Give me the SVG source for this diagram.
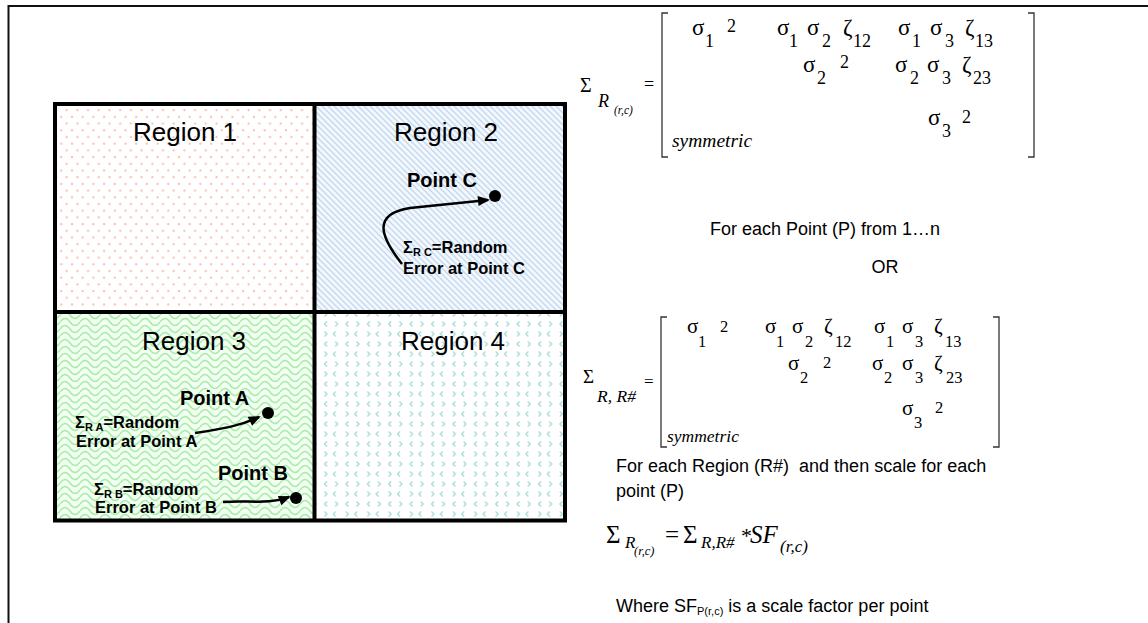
<svg xmlns="http://www.w3.org/2000/svg" width="1148" height="623" viewBox="0 0 1148 623">
<style>
.sans{font-family:"Liberation Sans",Arial,sans-serif;fill:#000}
.reg{font-size:26px}
.pt{font-size:20px;font-weight:bold}
.lbl{font-size:16.5px;font-weight:bold}
.sub{font-size:11px;font-weight:bold}
.txt{font-size:18px}
.m{font-family:"Liberation Serif","Times New Roman",serif;fill:#000}
.m1{font-size:23px}
.d1{font-size:18px}
.m2{font-size:21px}
.d2{font-size:16.5px}
.it{font-style:italic}
.brk{fill:none;stroke:#333;stroke-width:1.3}
.grid{fill:none;stroke:#000;stroke-width:4}
.arr{fill:none;stroke:#000;stroke-width:2.5;marker-end:url(#ah)}
</style>
<defs>
<marker id="ah" viewBox="0 0 12 10" refX="10" refY="5" markerWidth="13" markerHeight="10" markerUnits="userSpaceOnUse" orient="auto">
<path d="M0,0 L12,5 L0,10 Z" fill="#000"/>
</marker>
<pattern id="p1" width="10.7" height="13.4" patternUnits="userSpaceOnUse">
<rect width="10.7" height="13.4" fill="#fff"/>
<circle cx="2.5" cy="3" r="1.1" fill="#f9b8a8"/>
<circle cx="7.8" cy="9.7" r="1.1" fill="#f9b8a8"/>
</pattern>
<pattern id="p2" width="6" height="6" patternUnits="userSpaceOnUse">
<rect width="6" height="6" fill="#f4f8fd"/>
<path d="M-1.5,-1.5 L7.5,7.5 M-1.5,4.5 L1.5,7.5 M4.5,-1.5 L7.5,1.5" stroke="#c2d9f0" stroke-width="1.4"/>
</pattern>
<pattern id="p3" width="20" height="14" patternUnits="userSpaceOnUse">
<rect width="20" height="14" fill="#f4fff4"/>
<path d="M0,7 Q5,0 10,7 Q15,14 20,7 M0,0 Q5,-7 10,0 Q15,7 20,0 M0,14 Q5,7 10,14 Q15,21 20,14" fill="none" stroke="#a6eda6" stroke-width="1.5"/>
</pattern>
<pattern id="p4" width="21.4" height="20" patternUnits="userSpaceOnUse">
<rect width="21.4" height="20" fill="#fff"/>
<path d="M6,1.5 L3.5,4 L6,6.5 M14.2,1.5 L16.7,4 L14.2,6.5 M14.8,11.5 L12.3,14 L14.8,16.5 M3.5,11.5 L6,14 L3.5,16.5" fill="none" stroke="#9fd6d6" stroke-width="1.1"/>
</pattern>
</defs>
<rect width="1148" height="623" fill="#fff"/>
<path d="M8.5,623 L8.5,6 L1148,6" fill="none" stroke="#111" stroke-width="2"/>

<g id="region1">
<rect x="55" y="104" width="259.5" height="208" fill="url(#p1)"/>
<text class="sans reg" x="185" y="141" text-anchor="middle">Region 1</text>
</g>
<g id="region2">
<rect x="314.5" y="104" width="250.5" height="208" fill="url(#p2)"/>
<text class="sans reg" x="446" y="141" text-anchor="middle">Region 2</text>
</g>
<g id="region3">
<rect x="55" y="312" width="259.5" height="208.5" fill="url(#p3)"/>
<text class="sans reg" x="194" y="350" text-anchor="middle">Region 3</text>
</g>
<g id="region4">
<rect x="314.5" y="312" width="250.5" height="208.5" fill="url(#p4)"/>
<text class="sans reg" x="453" y="350" text-anchor="middle">Region 4</text>
</g>
<g id="gridlines">
<rect class="grid" x="55" y="104" width="510" height="416.5"/>
<path class="grid" d="M314.5,104 L314.5,520.5 M55,312 L565,312"/>
</g>

<g id="pointC">
<text class="sans pt" x="407" y="187">Point C</text>
<circle cx="495" cy="196" r="6"/>
<text class="sans lbl" x="403" y="253">Σ<tspan class="sub" dy="3">R C</tspan><tspan dy="-3">=Random</tspan></text>
<text class="sans lbl" x="403" y="274">Error at Point C</text>
</g>
<g id="pointA">
<text class="sans pt" x="180" y="405">Point A</text>
<circle cx="268" cy="413" r="6"/>
<text class="sans lbl" x="75" y="428">Σ<tspan class="sub" dy="3">R A</tspan><tspan dy="-3">=Random</tspan></text>
<text class="sans lbl" x="76" y="447">Error at Point A</text>
</g>
<g id="pointB">
<text class="sans pt" x="218" y="480">Point B</text>
<circle cx="296" cy="498" r="6"/>
<text class="sans lbl" x="94" y="495">Σ<tspan class="sub" dy="3">R B</tspan><tspan dy="-3">=Random</tspan></text>
<text class="sans lbl" x="95" y="513">Error at Point B</text>
</g>

<g id="connectors">
<path class="arr" d="M402,264 C380,236 372,214 410,208 L488,200"/>
<path class="arr" d="M195,433 C222,429 240,426 259,417"/>
<path class="arr" d="M223,502 C250,500 268,505 289,497"/>
</g>

<g id="matrix1">
<text class="m" x="580" y="92" font-size="20">Σ</text>
<text class="m it" x="598" y="107" font-size="18">R</text>
<text class="m it" x="614" y="114" font-size="11.5">(r,c)</text>
<text class="m" x="644" y="90" font-size="18">=</text>
<path class="brk" d="M668,13 L662,13 L662,157 L668,157 M1028,13 L1034,13 L1034,157 L1028,157"/>
<g class="m">
<text class="m1" x="692" y="35">σ</text><text class="d1" x="705" y="47">1</text><text class="d1" x="727" y="32">2</text>
<text class="m1" x="777" y="35">σ</text><text class="d1" x="789" y="47">1</text>
<text class="m1" x="807" y="35">σ</text><text class="d1" x="822" y="47">2</text>
<text class="m1" x="843" y="35">ζ</text><text class="d1" x="853" y="47">12</text>
<text class="m1" x="898" y="35">σ</text><text class="d1" x="912" y="47">1</text>
<text class="m1" x="930" y="35">σ</text><text class="d1" x="945" y="47">3</text>
<text class="m1" x="965" y="35">ζ</text><text class="d1" x="975" y="47">13</text>
<text class="m1" x="803" y="72">σ</text><text class="d1" x="817" y="84">2</text><text class="d1" x="840" y="68">2</text>
<text class="m1" x="895" y="72">σ</text><text class="d1" x="910" y="84">2</text>
<text class="m1" x="927" y="72">σ</text><text class="d1" x="942" y="84">3</text>
<text class="m1" x="962" y="72">ζ</text><text class="d1" x="973" y="84">23</text>
<text class="m1" x="928" y="125">σ</text><text class="d1" x="942" y="137">3</text><text class="d1" x="962" y="123">2</text>
<text class="it" x="672" y="147" font-size="19.5">symmetric</text>
</g>
</g>

<text class="sans txt" x="710" y="235">For each Point (P) from 1…n</text>
<text class="sans txt" x="885" y="273" text-anchor="middle">OR</text>

<g id="matrix2">
<text class="m" x="583" y="383" font-size="19">Σ</text>
<text class="m it" x="597" y="402" font-size="17.5">R, R#</text>
<text class="m" x="644" y="387" font-size="17">=</text>
<path class="brk" d="M667,317 L661,317 L661,447 L667,447 M993,317 L999,317 L999,447 L993,447"/>
<g class="m">
<text class="m2" x="687" y="333">σ</text><text class="d2" x="698" y="347">1</text><text class="d2" x="720" y="332">2</text>
<text class="m2" x="765" y="333">σ</text><text class="d2" x="776" y="347">1</text>
<text class="m2" x="792" y="333">σ</text><text class="d2" x="805" y="347">2</text>
<text class="m2" x="824" y="333">ζ</text><text class="d2" x="835" y="347">12</text>
<text class="m2" x="874" y="333">σ</text><text class="d2" x="886" y="347">1</text>
<text class="m2" x="902" y="333">σ</text><text class="d2" x="915" y="347">3</text>
<text class="m2" x="934" y="333">ζ</text><text class="d2" x="945" y="347">13</text>
<text class="m2" x="788" y="370">σ</text><text class="d2" x="800" y="383">2</text><text class="d2" x="823" y="368">2</text>
<text class="m2" x="872" y="370">σ</text><text class="d2" x="884" y="383">2</text>
<text class="m2" x="902" y="370">σ</text><text class="d2" x="915" y="383">3</text>
<text class="m2" x="934" y="370">ζ</text><text class="d2" x="946" y="383">23</text>
<text class="m2" x="902" y="415">σ</text><text class="d2" x="914" y="428">3</text><text class="d2" x="935" y="413">2</text>
<text class="it" x="667" y="442" font-size="17.5">symmetric</text>
</g>
</g>

<text class="sans txt" x="616" y="472">For each Region (R#)&#160; and then scale for each</text>
<text class="sans txt" x="616" y="497">point (P)</text>

<g id="formula" class="m">
<text x="606" y="543" font-size="25">Σ</text>
<text class="it" x="625" y="548" font-size="17">R</text>
<text class="it" x="634" y="555" font-size="12.5">(r,c)</text>
<text x="665" y="543" font-size="25">=</text>
<text x="683" y="543" font-size="25">Σ</text>
<text class="it" x="701" y="548" font-size="17">R,R#</text>
<text x="741" y="543" font-size="22">*</text>
<text class="it" x="750" y="543" font-size="25">SF</text>
<text class="it" x="780" y="552" font-size="17">(r,c)</text>
</g>

<text class="sans txt" x="616" y="612">Where SF<tspan font-size="11" dy="3">P(r,c)</tspan><tspan dy="-3"> is a scale factor per point</tspan></text>
</svg>
